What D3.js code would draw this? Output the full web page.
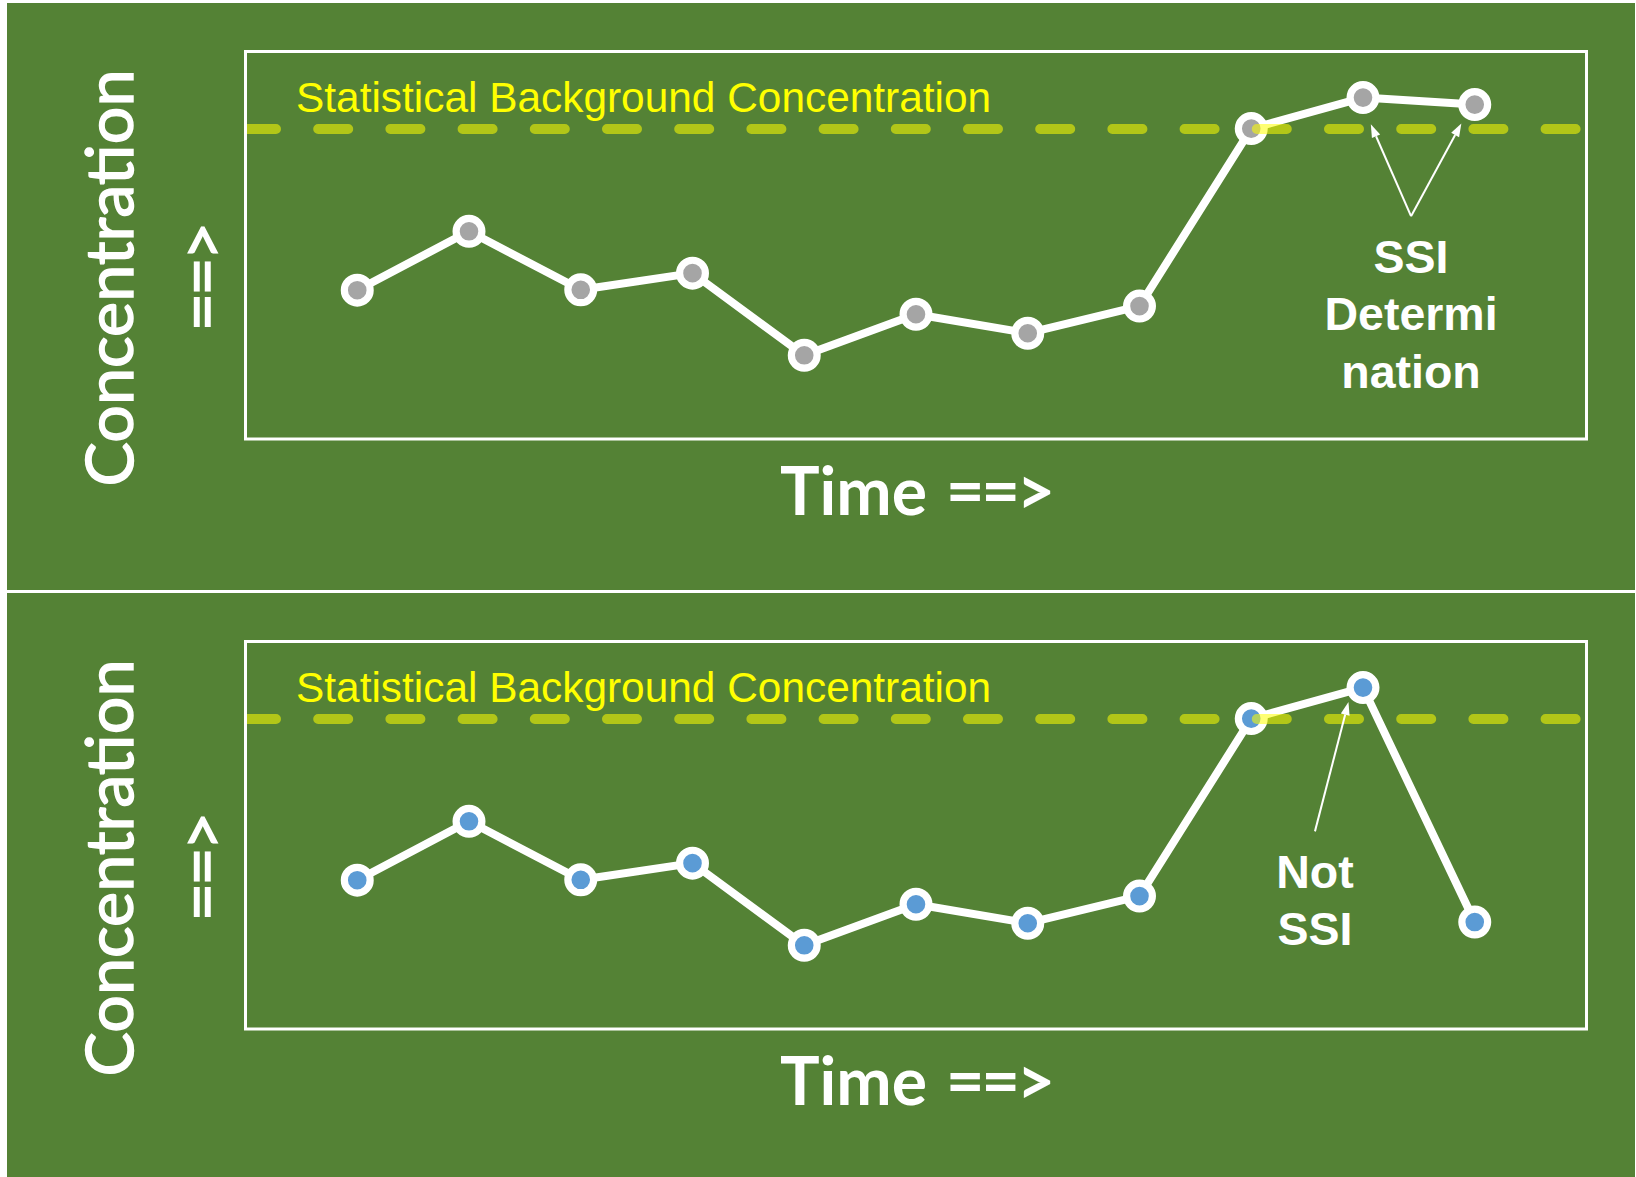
<!DOCTYPE html>
<html><head><meta charset="utf-8">
<script src="https://cdn.jsdelivr.net/npm/d3@7"></script>
<style>html,body{margin:0;padding:0;background:#fff;} svg{display:block}</style>
</head><body>
<svg id="chart" width="1636" height="1177"></svg>
<script>
// ---------- data ----------
const timePoints = [1, 2, 3, 4, 5, 6, 7, 8, 9, 10, 11];
const concentrationTop = [38.4, 53.6, 38.5, 42.8, 21.6, 32.2, 27.3, 34.3, 80.1, 88.1, 86.3];
const concentrationBottom = [38.4, 53.6, 38.5, 42.8, 21.6, 32.2, 27.3, 34.3, 80.1, 88.1, 27.6];
const backgroundLevel = 80;
const backgroundLabel = "Statistical Background Concentration";
const yLabelLines = ["Concentration", "==>"];
const xLabelParts = ["Time", "==>"];
const topNoteLines = ["SSI", "Determi", "nation"];
const bottomNoteLines = ["Not", "SSI"];
const topArrowTail = [10.43, 57.5];
const topArrowTips = [[10.07, 81.2], [10.88, 81.4]];
const bottomArrowTail = [9.57, 51.0];
const bottomArrowTips = [[9.87, 84.4]];

// ---------- layout ----------
const W = 1636, H = 1177;
const svg = d3.select("#chart");
const GREEN = "#548235";
const LABEL_FONT = "Lato, 'Open Sans', sans-serif";

const x = d3.scaleLinear().domain([0, 12]).range([245.5, 1586.5]);
const y = d3.scaleLinear().domain([0, 100]).range([439, 51.5]);

svg.append("rect").attr("width", W).attr("height", H).attr("fill", "#fff");
const panels = [
  {offset: 0, top: 3, bottom: 590, values: concentrationTop, dot: "#a5a5a5",
   tail: topArrowTail, tips: topArrowTips, note: topNoteLines},
  {offset: 590, top: 593, bottom: H, values: concentrationBottom, dot: "#5b9bd5",
   tail: bottomArrowTail, tips: bottomArrowTips, note: bottomNoteLines}
];

function fitFont(sel, target, base) {
  sel.attr("font-size", base);
  const len = sel.node().getComputedTextLength();
  const fs = base * target / len;
  sel.attr("font-size", fs);
  return fs;
}

panels.forEach((p, i) => {
  svg.append("rect").attr("x", 7).attr("y", p.top).attr("width", W - 8)
     .attr("height", p.bottom - p.top).attr("fill", GREEN);

  const g = svg.append("g").attr("transform", `translate(0,${p.offset})`);

  const [x0, x1] = x.range();
  const [yb, yt] = y.range();
  g.append("rect").attr("x", x0).attr("y", yt).attr("width", x1 - x0).attr("height", yb - yt)
   .attr("fill", "none").attr("stroke", "#fff").attr("stroke-width", 3);

  const clipId = "clip" + i;
  g.append("clipPath").attr("id", clipId).append("rect")
   .attr("x", x0 + 1.5).attr("y", yt).attr("width", x1 - x0 - 3).attr("height", yb - yt);

  // y label (rotated, two lines)
  const cy = 278;
  const t1 = g.append("text").attr("transform", `translate(133,${cy}) rotate(-90)`)
    .attr("text-anchor", "middle").attr("fill", "#fff")
    .attr("stroke", "#fff").attr("stroke-width", 1.4)
    .attr("font-family", LABEL_FONT).text(yLabelLines[0]);
  const fs = fitFont(t1, 417, 72);
  g.append("text").attr("transform", `translate(225,${cy}) rotate(-90)`)
    .attr("text-anchor", "middle").attr("fill", "#fff").attr("font-size", fs)
    .attr("stroke", "#fff").attr("stroke-width", 1.4)
    .attr("letter-spacing", -3)
    .attr("font-family", LABEL_FONT).text(yLabelLines[1]);

  // x label
  const tx = g.append("text").attr("x", 780).attr("y", 515)
    .attr("fill", "#fff").attr("font-weight", "bold").attr("font-family", LABEL_FONT);
  tx.append("tspan").text(xLabelParts[0]);
  fitFont(tx, 147, 71);
  tx.append("tspan").attr("x", 946).attr("letter-spacing", -3).text(xLabelParts[1]);

  // background label
  g.append("text").attr("x", 296).attr("y", 111.5).attr("fill", "#ffff00")
    .attr("font-family", "'Liberation Sans', Arial, sans-serif").attr("font-size", 42.4)
    .text(backgroundLabel);

  // series line
  const line = d3.line().x((d, k) => x(timePoints[k])).y(d => y(d));
  g.append("path").datum(p.values).attr("d", line).attr("fill", "none")
   .attr("stroke", "#fff").attr("stroke-width", 8).attr("stroke-linejoin", "round");

  // markers
  g.selectAll("circle.pt").data(p.values).join("circle").attr("class", "pt")
   .attr("cx", (d, k) => x(timePoints[k])).attr("cy", d => y(d)).attr("r", 12.9)
   .attr("fill", p.dot).attr("stroke", "#fff").attr("stroke-width", 7.2);

  // background threshold (dashed)
  g.append("line").attr("clip-path", `url(#${clipId})`)
   .attr("x1", x0 + 0.5).attr("x2", x1).attr("y1", y(backgroundLevel)).attr("y2", y(backgroundLevel))
   .attr("stroke", "#ffff00").attr("stroke-opacity", 0.55).attr("stroke-width", 10)
   .attr("stroke-linecap", "round").attr("stroke-dasharray", "30 42.2");

  // arrows
  const tailPx = [x(p.tail[0]), y(p.tail[1])];
  p.tips.forEach(tp => {
    const tip = [x(tp[0]), y(tp[1])];
    const dx = tip[0] - tailPx[0], dy = tip[1] - tailPx[1];
    const len = Math.hypot(dx, dy), ux = dx / len, uy = dy / len;
    const L = 13, w = 9;
    const bx = tip[0] - ux * L, by = tip[1] - uy * L;
    g.append("line").attr("x1", tailPx[0]).attr("y1", tailPx[1]).attr("x2", bx).attr("y2", by)
     .attr("stroke", "#fff").attr("stroke-width", 2);
    g.append("polygon").attr("fill", "#fff").attr("points", [
      tip, [bx - uy * w / 2, by + ux * w / 2], [bx + uy * w / 2, by - ux * w / 2]
    ].map(q => q.join(",")).join(" "));
  });

  // note text
  const nt = g.append("text").attr("text-anchor", "middle").attr("fill", "#fff")
    .attr("font-weight", "bold").attr("font-family", "'Liberation Sans', Arial, sans-serif")
    .attr("font-size", 46.5);
  p.note.forEach((s, k) => {
    nt.append("tspan").attr("x", tailPx[0]).attr("y", tailPx[1] + 56.5 + k * 57.5).text(s);
  });
});
</script>
</body></html>
